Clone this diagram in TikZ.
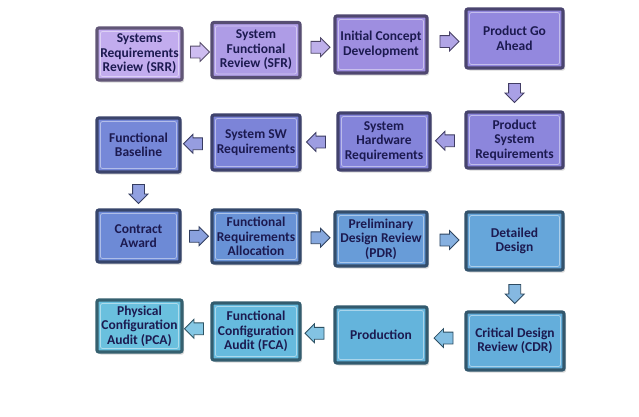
\documentclass[tikz,border=0pt]{standalone}
\usepackage{fontspec}
\setmainfont{Carlito}
\usetikzlibrary{shapes.arrows,shadows,calc}
\definecolor{txt}{HTML}{1C1A50}
\definecolor{c1}{HTML}{C2ACEE}
\definecolor{c2}{HTML}{AE9CE6}
\definecolor{c3}{HTML}{9E8EE0}
\definecolor{c4}{HTML}{9388DE}
\definecolor{c5}{HTML}{8C86DC}
\definecolor{c6}{HTML}{8484DA}
\definecolor{c7}{HTML}{7C84D8}
\definecolor{c8}{HTML}{7688D8}
\definecolor{c9}{HTML}{6D8AD6}
\definecolor{c10}{HTML}{6892D6}
\definecolor{c11}{HTML}{689CD8}
\definecolor{c12}{HTML}{66A6DA}
\definecolor{c13}{HTML}{64AEDB}
\definecolor{c14}{HTML}{64B4DC}
\definecolor{c15}{HTML}{66BADE}
\definecolor{c16}{HTML}{6AC0DE}
\tikzset{
  box/.style={rectangle, rounded corners=2pt, fill=#1, draw=#1!50!black,
    line width=3.2pt, text=txt, align=center, inner sep=0pt,
    font=\fontsize{13.5}{14.5}\selectfont\bfseries,
    drop shadow={opacity=0.3, shadow xshift=2pt, shadow yshift=-2.5pt},
    path picture={\draw[white, opacity=0.45, line width=0.8pt]
      ([shift={(3.5pt,-3.5pt)}]path picture bounding box.north west) rectangle
      ([shift={(-3.5pt,3.5pt)}]path picture bounding box.south east);}},
  arr/.style={single arrow, fill=#1!80!white, draw=#1!45!black, line width=0.8pt,
    minimum height=19pt, single arrow head extend=3.5pt,
    single arrow head indent=0pt, inner sep=5.5pt},
}
\begin{document}
\begin{tikzpicture}[x=1pt,y=-1pt]
\useasboundingbox[fill=white] (0,0) rectangle (639,416);
% row 1
\node[box=c1, minimum width=85pt, minimum height=52pt] (srr) at (139.5,54) {Systems\\Requirements\\Review (SRR)};
\node[box=c2, minimum width=88pt, minimum height=55pt] (sfr) at (256,50) {System\\Functional\\Review (SFR)};
\node[box=c3, minimum width=92pt, minimum height=57pt] (icd) at (381,44.5) {Initial Concept\\Development};
\node[box=c4, minimum width=97pt, minimum height=59pt] (pga) at (514.5,38.5) {Product Go\\Ahead};
% row 2
\node[box=c5, minimum width=97pt, minimum height=56pt] (psr) at (514.5,140) {Product\\System\\Requirements};
\node[box=c6, minimum width=92pt, minimum height=57pt] (shr) at (384,141.5) {System\\Hardware\\Requirements};
\node[box=c7, minimum width=88pt, minimum height=55pt] (ssw) at (256,142.5) {System SW\\Requirements};
\node[box=c8, minimum width=83pt, minimum height=54pt] (fb) at (138.5,145) {Functional\\Baseline};
% row 3
\node[box=c9, minimum width=83pt, minimum height=52pt] (ca) at (138.5,236) {Contract\\Award};
\node[box=c10, minimum width=88pt, minimum height=53pt] (fra) at (256,236.5) {Functional\\Requirements\\Allocation};
\node[box=c11, minimum width=92pt, minimum height=54pt] (pdr) at (381,239) {Preliminary\\Design Review\\(PDR)};
\node[box=c12, minimum width=97pt, minimum height=58pt] (dd) at (514.5,241) {Detailed\\Design};
% row 4
\node[box=c13, minimum width=98pt, minimum height=58pt] (cdr) at (515,341) {Critical Design\\Review (CDR)};
\node[box=c14, minimum width=92pt, minimum height=56pt] (prod) at (381,335) {Production};
\node[box=c15, minimum width=88pt, minimum height=57pt] (fca) at (256,331.5) {Functional\\Configuration\\Audit (FCA)};
\node[box=c16, minimum width=85pt, minimum height=52pt] (pca) at (139.5,326) {Physical\\Configuration\\Audit (PCA)};
% arrows
\node[arr=c1] (a1) at ($(srr.east)!0.5!(sfr.west)$) {};
\node[arr=c2] (a2) at ($(sfr.east)!0.5!(icd.west)$) {};
\node[arr=c3] (a3) at ($(icd.east)!0.5!(pga.west)$) {};
\node[arr=c4, shape border rotate=270] (a4) at ($(pga.south)!0.5!(psr.north)$) {};
\node[arr=c5, shape border rotate=180] (a5) at ($(psr.west)!0.5!(shr.east)$) {};
\node[arr=c6, shape border rotate=180] (a6) at ($(shr.west)!0.5!(ssw.east)$) {};
\node[arr=c7, shape border rotate=180] (a7) at ($(ssw.west)!0.5!(fb.east)$) {};
\node[arr=c8, shape border rotate=270] (a8) at ($(fb.south)!0.5!(ca.north)$) {};
\node[arr=c9] (a9) at ($(ca.east)!0.5!(fra.west)$) {};
\node[arr=c10] (a10) at ($(fra.east)!0.5!(pdr.west)$) {};
\node[arr=c11] (a11) at ($(pdr.east)!0.5!(dd.west)$) {};
\node[arr=c12, shape border rotate=270] (a12) at ($(dd.south)!0.5!(cdr.north)$) {};
\node[arr=c13, shape border rotate=180] (a13) at ($(cdr.west)!0.5!(prod.east)$) {};
\node[arr=c14, shape border rotate=180] (a14) at ($(prod.west)!0.5!(fca.east)$) {};
\node[arr=c15, shape border rotate=180] (a15) at ($(fca.west)!0.5!(pca.east)$) {};
\end{tikzpicture}
\end{document}
